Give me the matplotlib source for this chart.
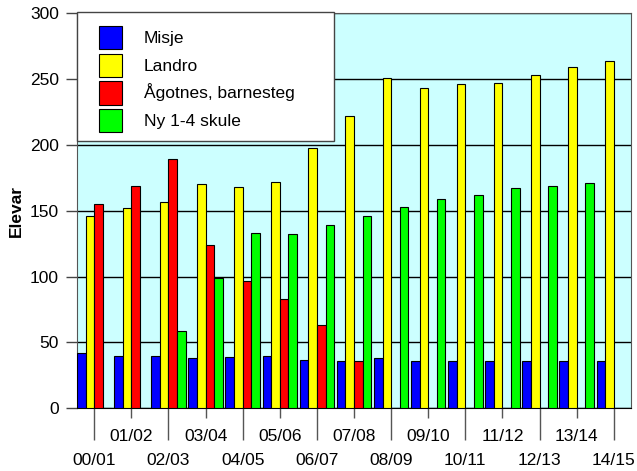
import numpy as np
import matplotlib
matplotlib.use('Agg')
import matplotlib.pyplot as plt
from matplotlib.patches import Rectangle

plt.rcParams['font.family'] = ['Liberation Sans', 'DejaVu Sans']

# ---------------------------------------------------------------------
#  Dados
# ---------------------------------------------------------------------

skoleaar = ['00/01', '01/02', '02/03', '03/04', '04/05', '05/06', '06/07', '07/08',
            '08/09', '09/10', '10/11', '11/12', '12/13', '13/14', '14/15']

misje = [42, 40, 40, 38, 39, 40, 37, 36, 38, 36, 36, 36, 36, 36, 36]
landro = [146, 152, 157, 170, 168, 172, 198, 222, 251, 243, 246, 247, 253, 259, 264]
agotnes = [155, 169, 189, 124, 97, 83, 63, 36, 0, 0, 0, 0, 0, 0, 0]
ny_skule = [0, 0, 59, 99, 133, 132, 139, 146, 153, 159, 162, 167, 169, 171, 0]

serier = [
    ('Misje', misje, '#0000ff'),
    ('Landro', landro, '#ffff00'),
    ('Ågotnes, barnesteg', agotnes, '#ff0000'),
    ('Ny 1-4 skule', ny_skule, '#00ff00'),
]

fs = 12.5

# ---------------------------------------------------------------------
#  Figura
# ---------------------------------------------------------------------

fig = plt.figure(figsize=(6.37, 4.71), dpi=100)
ax = fig.add_axes([0.1209, 0.1331, 0.8697, 0.8387])
ax.set_facecolor('#ccffff')

x = np.arange(len(skoleaar))
w = 0.232

for i, (navn, verdi, farge) in enumerate(serier):
    ax.bar(x + (i - 1.5) * w, verdi, width=w, color=farge, edgecolor='black',
           linewidth=0.8, label=navn, zorder=3)

ax.set_xlim(-2 * w, len(skoleaar) - 1 + 2 * w)
ax.set_ylim(0, 300)
ax.set_yticks(np.arange(0, 301, 50))
ax.yaxis.grid(True, color='black', linewidth=1.0, zorder=1)
ax.set_axisbelow(True)

ax.tick_params(axis='y', length=8, width=1, color='#444444', labelsize=fs, pad=5)
ax.set_ylabel('Elevar', fontsize=fs, fontweight='bold', labelpad=4)

# x-ticks i to rader: partall = lang strek (nedre rad), oddetall = kort strek (ovre rad)
ax.set_xticks(x[::2])
ax.set_xticklabels(skoleaar[::2])
ax.set_xticks(x[1::2], minor=True)
ax.set_xticklabels(skoleaar[1::2], minor=True)
ax.tick_params(axis='x', which='major', length=23, width=1, color='#555555',
               labelsize=fs, pad=9)
ax.tick_params(axis='x', which='minor', length=7, width=1, color='#555555',
               labelsize=fs, pad=8)

for s in ['left', 'right', 'top']:
    ax.spines[s].set_color('#555555')
ax.spines['bottom'].set_color('black')

# Caixa branca da legenda
caixa = Rectangle((0.0, 0.6767), 0.464, 0.3233 + 0.002, transform=ax.transAxes,
                  facecolor='white', edgecolor='#444444', linewidth=1.0,
                  zorder=4, clip_on=False)
ax.add_patch(caixa)

leg = ax.legend(loc='upper left', bbox_to_anchor=(0.0397, 0.968),
                borderaxespad=0, frameon=False, fontsize=fs, handlelength=1.32,
                handleheight=1.7, handletextpad=1.26, labelspacing=0.24,
                borderpad=0)
leg.set_zorder(5)

plt.savefig('out.png', dpi=100)
